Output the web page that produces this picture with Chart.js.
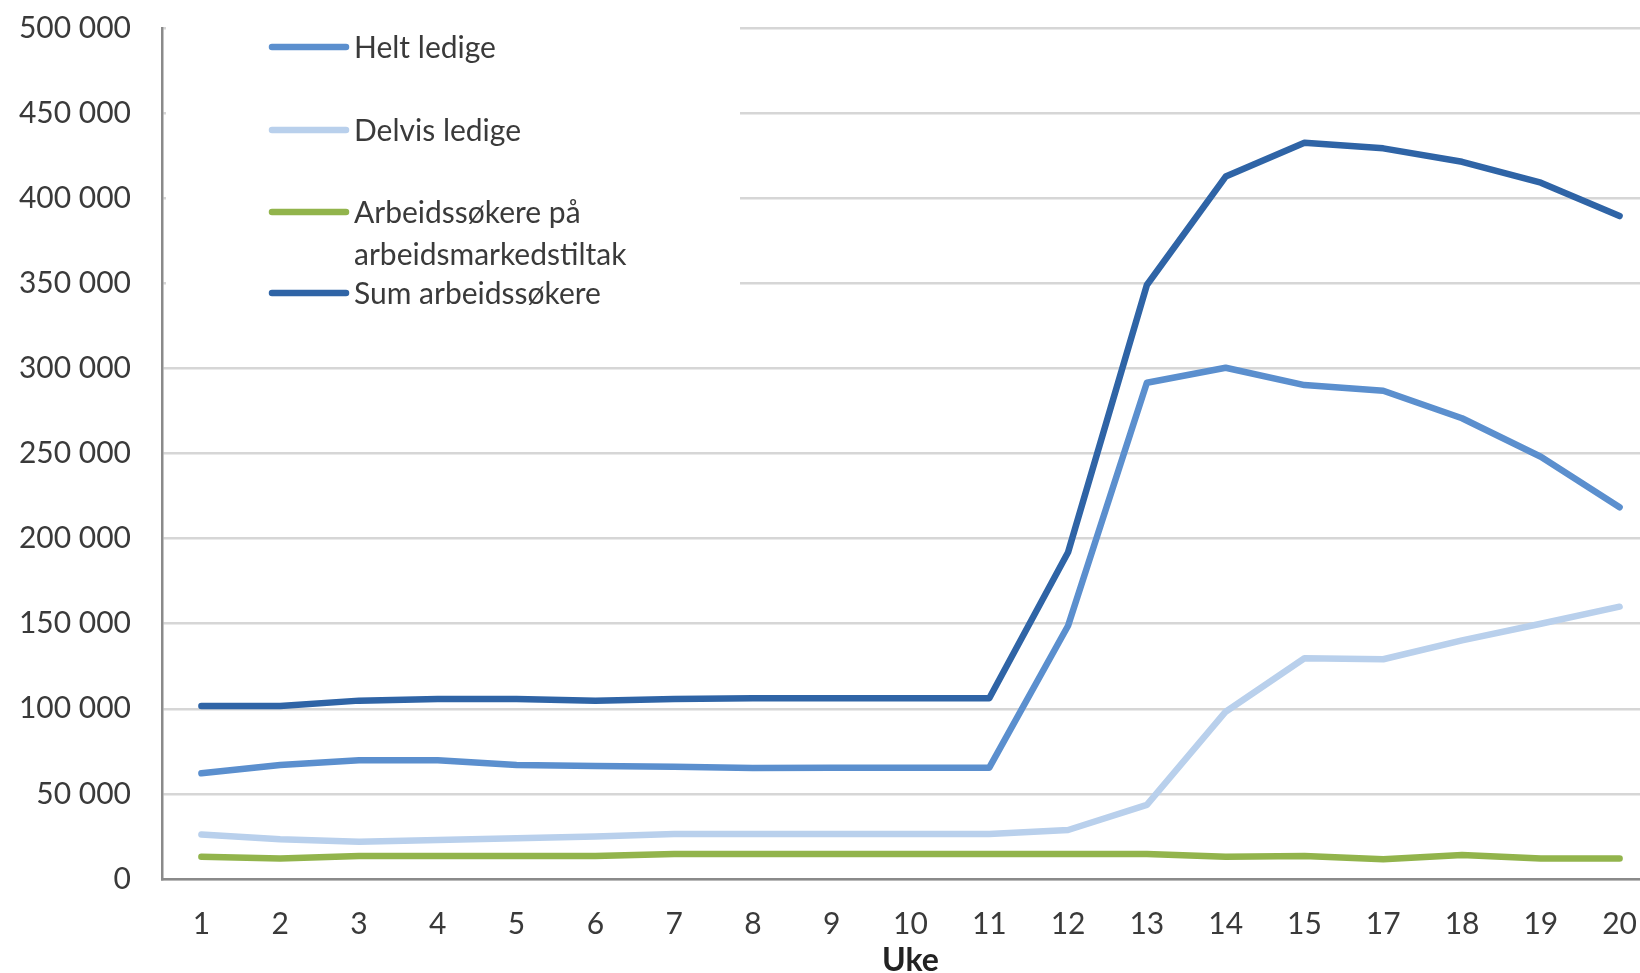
<!DOCTYPE html>
<html>
<head>
<meta charset="utf-8">
<script src="https://cdn.jsdelivr.net/npm/chart.js@4.4.1/dist/chart.umd.min.js"></script>
<style>
  html, body { margin: 0; padding: 0; background: #fff; overflow: hidden; }
  #wrap { position: relative; width: 1680px; height: 973px; }
</style>
</head>
<body>
<div id="wrap"><canvas id="c"></canvas></div>
<script>
const categories = ['1','2','3','4','5','6','7','8','9','10','11','12','13','14','15','17','18','19','20'];
const heltLedige = [62100,67000,69800,69800,67000,66400,66000,65200,65400,65400,65400,148800,291600,300400,290200,286900,270700,248100,218400];
const delvisLedige = [26200,23300,21900,22900,24000,24900,26400,26400,26400,26400,26400,28800,43500,98300,129700,129100,140200,150000,160000];
const tiltak = [13100,12100,13500,13500,13500,13500,14700,14700,14700,14700,14700,14700,14700,13100,13500,11600,14100,12100,12100];
const sumArbeidssokere = [101600,101600,104800,105800,105800,104800,105800,106200,106200,106200,106200,192000,349000,412700,432600,429300,421400,409100,389500];
const seriesNames = ['Helt ledige','Delvis ledige','Arbeidssøkere på\narbeidsmarkedstiltak','Sum arbeidssøkere'];
const axisTitle = 'Uke';

const colors = ['#5b8fce','#b9d0ec','#92b44c','#2f64a6'];
const FONT = 'Lato, "Liberation Sans", sans-serif';
const TXT = '#3a3a3a';

function fmt(v){ return String(v).replace(/\B(?=(\d{3})+(?!\d))/g, ' '); }

const legendPlugin = {
  id: 'boxLegend',
  beforeDatasetsDraw(chart){
    const ctx = chart.ctx;
    ctx.save();
    ctx.fillStyle = '#ffffff';
    ctx.fillRect(166, 0, 574, 312);
    const rows = [[47],[130],[212,254],[293]];
    ctx.font = '30px ' + FONT;
    ctx.textBaseline = 'middle';
    ctx.fillStyle = TXT;
    seriesNames.forEach((name, i) => {
      const ys = rows[i];
      ctx.strokeStyle = colors[i];
      ctx.lineWidth = 6.5;
      ctx.lineCap = 'round';
      ctx.beginPath();
      ctx.moveTo(272, ys[0]);
      ctx.lineTo(346, ys[0]);
      ctx.stroke();
      name.split('\n').forEach((line, j) => {
        ctx.fillText(line, 354, ys[j] + 1);
      });
    });
    ctx.restore();
  }
};

const datasets = [heltLedige, delvisLedige, tiltak, sumArbeidssokere].map((d, i) => ({
  label: seriesNames[i].replace('\n',' '),
  data: d,
  borderColor: colors[i],
  backgroundColor: colors[i],
  borderWidth: 6.5,
  pointRadius: 0,
  tension: 0,
  borderJoinStyle: 'round',
  borderCapStyle: 'round',
  fill: false
}));

new Chart(document.getElementById('c'), {
  type: 'line',
  data: { labels: categories, datasets },
  plugins: [legendPlugin],
  options: {
    responsive: true,
    maintainAspectRatio: false,
    animation: false,
    layout: { padding: { left: 0, right: 21, top: 28, bottom: 0 } },
    plugins: { legend: { display: false }, tooltip: { enabled: false } },
    scales: {
      x: {
        offset: true,
        grid: { display: false, drawTicks: false },
        border: { display: true, color: '#8a8a8a', width: 2.5 },
        ticks: { color: TXT, font: { family: FONT, size: 30 }, padding: 27, maxRotation: 0, autoSkip: false },
        title: { display: true, text: axisTitle, color: '#222', font: { family: FONT, size: 32, weight: 'bold', lineHeight: 1 }, padding: { top: 0, bottom: -4 } },
        afterFit(scale){ scale.height = 94; }
      },
      y: {
        min: 0, max: 500000,
        grid: { color: '#d6d6d6', lineWidth: 2.5, drawTicks: false },
        border: { display: true, color: '#8a8a8a', width: 2.5 },
        ticks: { stepSize: 50000, color: TXT, font: { family: FONT, size: 30 }, padding: 31, callback: v => fmt(v) },
        afterFit(scale){ scale.width = 162; scale.paddingTop = 0; scale.paddingBottom = 0; }
      }
    }
  }
});
</script>
</body>
</html>
